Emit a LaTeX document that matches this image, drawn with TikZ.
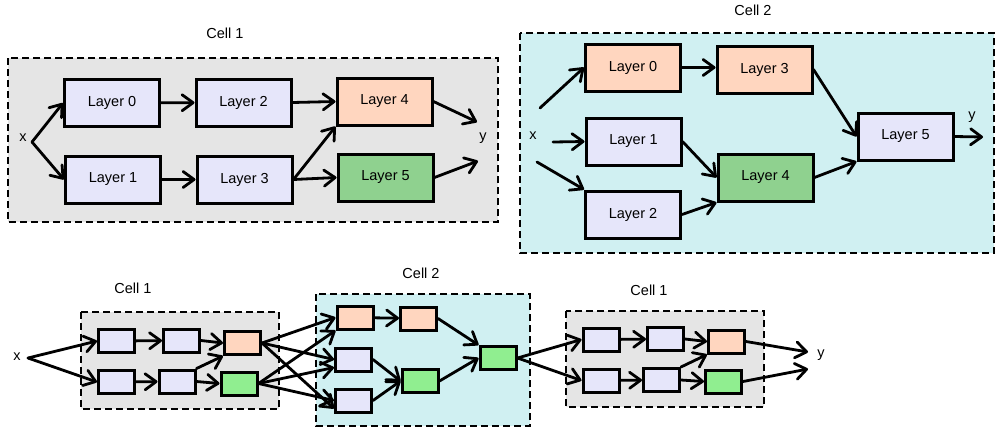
\documentclass[tikz,border=0pt]{standalone}
\usepackage{fontspec}
\setmainfont{Liberation Sans}
\usetikzlibrary{arrows.meta}
\definecolor{lav}{HTML}{E6E6FA}
\definecolor{peach}{HTML}{FFD6BF}
\definecolor{gtop}{HTML}{8FD18F}
\definecolor{gbot}{HTML}{90EE90}
\definecolor{cellgray}{HTML}{E5E5E5}
\definecolor{cellcyan}{HTML}{D0F0F2}
\tikzset{
  big/.style={draw=black, line width=3pt, minimum width=95pt, minimum height=47pt, inner sep=0pt, font=\fontsize{14.5}{17}\selectfont},
  small/.style={draw=black, line width=3pt, minimum width=36pt, minimum height=23pt, inner sep=0pt},
  cellbox/.style={draw=black, line width=2.8pt, dash pattern=on 7pt off 4pt},
  lbl/.style={font=\fontsize{14.5}{17}\selectfont, inner sep=0pt},
  conn/.style={line width=2.8pt, line cap=round, line join=round, -{Straight Barb[length=11pt,width=16pt,line cap=round,line join=round]}},
}
\begin{document}
\begin{tikzpicture}[x=1pt,y=-1pt]
\useasboundingbox (0,0) rectangle (995,429);
% ---------- top left cell 1 ----------
\path[cellbox, fill=cellgray] (8,58) rectangle (498,222);
\node[lbl] (t1) at (225,33) {Cell 1};
\node[big, fill=lav]   (A0) at (112,103)   {Layer 0};
\node[big, fill=lav]   (A2) at (243.5,102.5) {Layer 2};
\node[big, fill=peach] (A4) at (384.5,101.5) {Layer 4};
\node[big, fill=lav]   (A1) at (113,179.5) {Layer 1};
\node[big, fill=lav]   (A3) at (244.5,179.5) {Layer 3};
\node[big, fill=gtop]  (A5) at (385.5,177.5) {Layer 5};
\node[lbl] (ax) at (23,138) {x};
\node[lbl] (ay) at (483,138) {y};
\coordinate (axs) at (32,142);
\coordinate (aye1) at (477,122);
\coordinate (aye2) at (478,161);
\draw[conn] (axs) -- (A0.west);
\draw[conn] (axs) -- (A1.west);
\draw[conn] (A0) -- (A2);
\draw[conn] (A2.east) -- (A4.west);
\draw[conn] (A1) -- (A3);
\draw[conn] (A3.east) -- (A4.south west);
\draw[conn] (A3.east) -- (A5.west);
\draw[conn] (A4.east) -- (aye1);
\draw[conn] (A5.east) -- (aye2);
% ---------- top right cell 2 ----------
\path[cellbox, fill=cellcyan] (520,33) rectangle (994,253);
\node[lbl] (t2) at (753,10) {Cell 2};
\node[big, fill=peach] (B0) at (633,67.5)   {Layer 0};
\node[big, fill=peach] (B3) at (764.5,69.5) {Layer 3};
\node[big, fill=lav]   (B1) at (633.5,141.5) {Layer 1};
\node[big, fill=lav]   (B2) at (633,214.5)  {Layer 2};
\node[big, fill=gtop]  (B4) at (765.5,177.5) {Layer 4};
\node[big, fill=lav]   (B5) at (905.5,136.5) {Layer 5};
\node[lbl] (bx) at (533,136) {x};
\node[lbl] (by) at (972,117) {y};
\coordinate (bs0) at (540,108);
\coordinate (bs1) at (553,142);
\coordinate (bs2) at (537,162);
\coordinate (bye) at (983,137);
\draw[conn] (bs0) -- (B0.west);
\draw[conn] (bs1) -- (B1.west);
\draw[conn] (bs2) -- (B2.north west);
\draw[conn] (B0.east) -- (B0.east -| B3.west);
\draw[conn] (B3.east) -- (B5.west);
\draw[conn] (B1.east) -- (B4.west);
\draw[conn] (B2.east) -- (B4.south west);
\draw[conn] (B4.east) -- (B5.south west);
\draw[conn] (B5.east) -- (bye);
% ---------- bottom row ----------
\path[cellbox, fill=cellgray] (81,312) rectangle (279,409);
\path[cellbox, fill=cellcyan] (316,294) rectangle (530,426);
\path[cellbox, fill=cellgray] (566,311) rectangle (764,407);
\node[lbl] (t3) at (133,288) {Cell 1};
\node[lbl] (t4) at (421,273) {Cell 2};
\node[lbl] (t5) at (649,290) {Cell 1};
% cell 1 (bottom left)
\node[small, fill=lav]   (b1) at (116.5,341) {};
\node[small, fill=lav]   (b2) at (181.5,340.5) {};
\node[small, fill=peach] (b3) at (242.5,343) {};
\node[small, fill=lav]   (b4) at (116.5,382) {};
\node[small, fill=lav]   (b5) at (177,381.5) {};
\node[small, fill=gbot]  (b6) at (239,383.5) {};
\node[lbl] (cx) at (17,357) {x};
\coordinate (cxs) at (28,358);
\draw[conn] (cxs) -- (b1.west);
\draw[conn] (cxs) -- (b4.west);
\draw[conn] (b1) -- (b2);
\draw[conn] (b2.east) -- (b3.west);
\draw[conn] (b4) -- (b5);
\draw[conn] (b5.east) -- (b6.west);
\draw[conn] (b5.north east) -- (b3.south west);
% cell 2 (bottom middle)
\node[small, fill=peach] (c1) at (355,317.5) {};
\node[small, fill=peach] (c2) at (418.5,318.5) {};
\node[small, fill=lav]   (c3) at (353.5,359.5) {};
\node[small, fill=lav]   (c4) at (353.5,400.5) {};
\node[small, fill=gbot]  (c5) at (420,381) {};
\node[small, fill=gbot]  (c6) at (498,358) {};
\draw[conn] (b3.east) -- (c1.west);
\draw[conn] (b3.east) -- (c3.west);
\draw[conn] (b3.east) -- ([yshift=-8pt]c4.west);
\draw[conn] (b6.east) -- (c1.south west);
\draw[conn] (b6.east) -- ([yshift=-8pt]c3.west);
\draw[conn] (b6.east) -- (c4.west);
\draw[conn] (c1) -- (c2);
\draw[conn] (c2.east) -- (c6.north west);
\draw[conn] (c3.east) -- (c5.west);
\draw[conn] (c4.east) -- (c5.west);
\draw[conn] (c5.east) -- (c6.west);
% cell 1 (bottom right)
\node[small, fill=lav]   (d1) at (601,339.5) {};
\node[small, fill=lav]   (d2) at (665.5,339) {};
\node[small, fill=peach] (d3) at (726.5,341.5) {};
\node[small, fill=lav]   (d4) at (601,380.5) {};
\node[small, fill=lav]   (d5) at (661.5,380) {};
\node[small, fill=gbot]  (d6) at (723.5,381.5) {};
\node[lbl] (dy) at (821,355) {y};
\coordinate (dye1) at (808,352);
\coordinate (dye2) at (808,369);
\draw[conn] (c6.east) -- (d1.west);
\draw[conn] (c6.east) -- (d4.west);
\draw[conn] (d1) -- (d2);
\draw[conn] (d2.east) -- (d3.west);
\draw[conn] (d4) -- (d5);
\draw[conn] (d5.east) -- (d6.west);
\draw[conn] (d5.north east) -- (d3.south west);
\draw[conn] (d3.east) -- (dye1);
\draw[conn] (d6.east) -- (dye2);
\end{tikzpicture}
\end{document}
